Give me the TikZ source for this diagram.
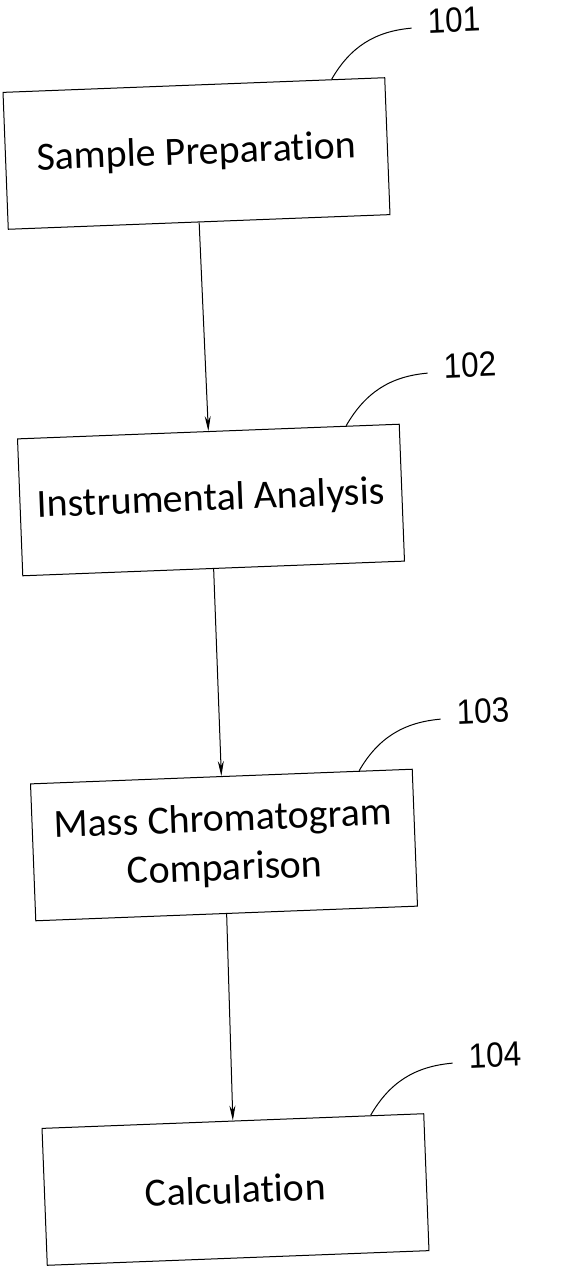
\documentclass[tikz,border=0pt]{standalone}
\usepackage{fontspec}
\setmainfont[Ligatures=NoCommon]{Carlito}
\newfontfamily\refnumfont{Liberation Sans}
\usetikzlibrary{calc,arrows.meta}

\tikzset{
	stepbox/.style={draw, line width=1pt, rectangle, minimum width=382pt, minimum height=137pt,
		inner sep=0pt, rotate=2.2, align=center, font=\fontsize{40}{49}\selectfont},
	refnum/.style={font=\refnumfont\fontsize{35}{35}\selectfont, xscale=0.9, rotate=2.2, inner sep=0pt},
	flow/.style={line width=1pt, -{Stealth[length=15pt,width=6pt]}},
	leader/.style={line width=1pt},
}

\begin{document}
\begin{tikzpicture}[x=1pt,y=-1pt]
		\useasboundingbox (0,0) rectangle (567,1268);
		% process steps
		\node[stepbox] (b1) at (196.5,153.5) {Sample Preparation};
		\node[stepbox] (b2) at (211,500) {Instrumental Analysis};
		\node[stepbox] (b3) at (224,845) {Mass Chromatogram\\Comparison};
		\node[stepbox] (b4) at (235.5,1189.5) {Calculation};
		\foreach \i/\j in {1/2,2/3,3/4}{
			\draw[flow] (b\i.south) -- (b\j.north);
			}
		% reference numbers
		\node[refnum] (n1) at (454,20) {101};
		\node[refnum] (n2) at (470,365) {102};
		\node[refnum] (n3) at (483,711) {103};
		\node[refnum] (n4) at (495,1055) {104};
		\foreach \i in {1,2,3,4}{
			\draw[leader]
				($(b\i.north west)!0.86!(b\i.north east)$) coordinate (t\i)
				to[out=60,in=185] ($(n\i.west)+(-16,7)$) coordinate (e\i);
			}
\end{tikzpicture}
\end{document}
